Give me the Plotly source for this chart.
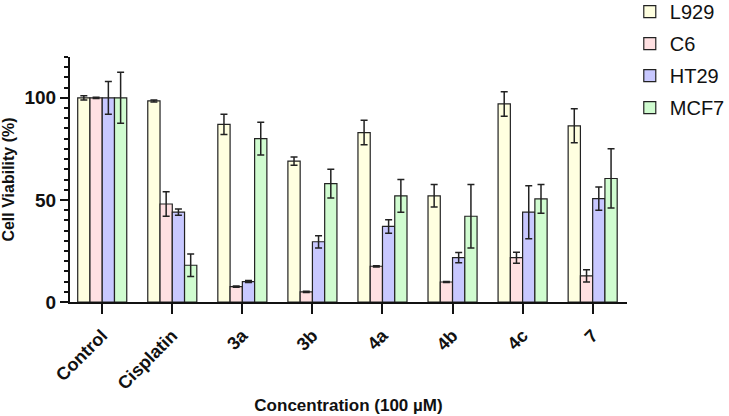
import plotly.graph_objects as go

categories = ["Control", "Cisplatin", "3a", "3b", "4a", "4b", "4c", "7"]
series_names = ["L929", "C6", "HT29", "MCF7"]

l929 = [100, 98.5, 87, 69, 83, 52, 97, 86.3]
l929_err = [1, 0.5, 5, 2, 6, 5.5, 6, 8.3]
c6 = [100, 48, 7.5, 5, 17.5, 9.8, 21.7, 12.8]
c6_err = [0.3, 6, 0.3, 0.3, 0.3, 0.3, 2.7, 3]
ht29 = [100, 44, 10, 29.5, 37, 21.7, 44, 50.6]
ht29_err = [8, 1.5, 0.5, 3, 3.3, 2.5, 13, 5.7]
mcf7 = [100, 18, 80, 58, 52, 42, 50.5, 60.5]
mcf7_err = [12.5, 5.5, 8, 7, 8, 15.5, 7, 14.5]

colors = ["#FFFFE0", "#FFE0E2", "#C8C8FF", "#D0FCD0"]

values = [l929, c6, ht29, mcf7]
errors = [l929_err, c6_err, ht29_err, mcf7_err]

font_family = "Liberation Sans, Arial, sans-serif"

fig = go.Figure()
for name, vals, errs, col in zip(series_names, values, errors, colors):
    fig.add_trace(go.Bar(
        name=name, x=categories, y=vals,
        marker=dict(color=col, line=dict(color="#222222", width=1.2)),
        error_y=dict(type="data", array=errs, visible=True, color="#222222",
                     thickness=1.5, width=3.5),
        legendgroup=name,
    ))

fig.update_layout(
    width=729, height=416,
    margin=dict(l=70, r=102, t=57, b=114, autoexpand=False),
    plot_bgcolor="white", paper_bgcolor="white",
    barmode="group", bargap=0.3, bargroupgap=0,
    font=dict(family=font_family, color="#111111"),
    legend=dict(x=1.005, y=1.265, xanchor="left", yanchor="top",
                font=dict(size=20, family=font_family),
                tracegroupgap=3, itemwidth=30),
    showlegend=True,
)

fig.update_xaxes(
    range=[-0.46, 7.49], automargin=False,
    showline=True, linecolor="#111111", linewidth=2,
    ticks="outside", ticklen=10, tickwidth=2, tickcolor="#111111",
    tickangle=-45, ticklabelstandoff=4,
    tickfont=dict(size=18, weight="bold", family=font_family),
    title=dict(text="Concentration (100 µM)",
               font=dict(size=17, weight="bold", family=font_family),
               standoff=7),
    showgrid=False,
)
fig.update_yaxes(
    range=[0, 120], automargin=False,
    tickvals=[0, 50, 100],
    showline=True, linecolor="#111111", linewidth=2,
    ticks="outside", ticklen=8, tickwidth=2, tickcolor="#111111",
    minor=dict(dtick=5, ticks="outside", ticklen=4, tickwidth=1.5, tickcolor="#111111", showgrid=False),
    tickfont=dict(size=19, weight="bold", family=font_family),
    title=dict(text="Cell Viability (%)",
               font=dict(size=16, weight="bold", family=font_family),
               standoff=6),
    showgrid=False, zeroline=False,
)

fig.write_html("out.html")
